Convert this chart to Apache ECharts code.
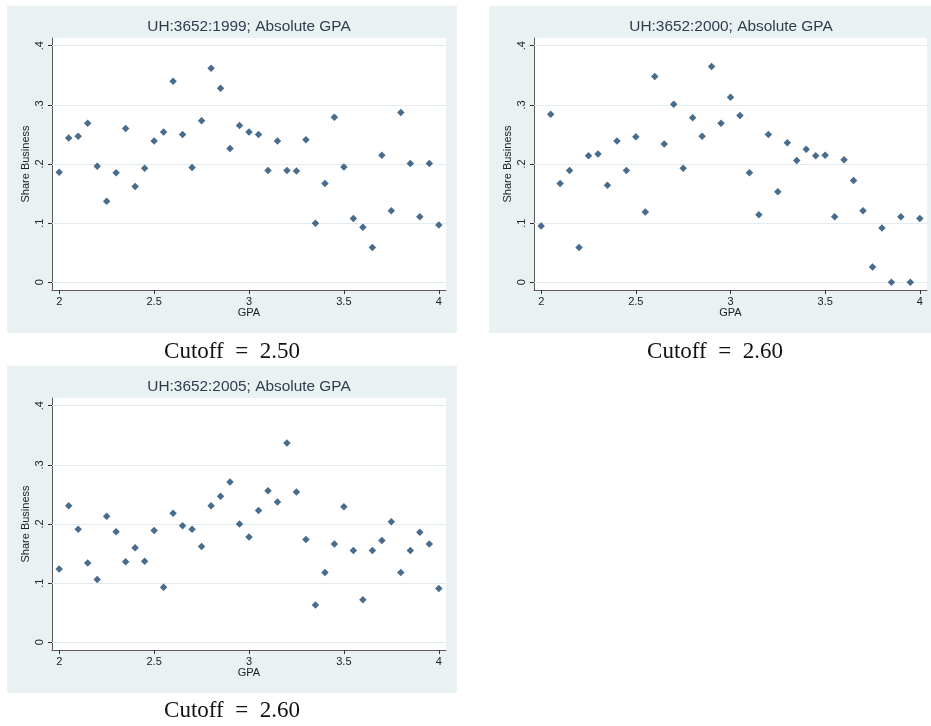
<!DOCTYPE html>
<html>
<head>
<meta charset="utf-8">
<title>Share Business by GPA</title>
<script src="https://cdn.jsdelivr.net/npm/echarts@6/dist/echarts.min.js"></script>
<style>
  html, body { margin: 0; padding: 0; background: #ffffff; }
  #chart { width: 931px; height: 726px; }
</style>
</head>
<body>
<div id="chart"></div>
<script>
// GPA bins, 2.00 to 4.00 in steps of 0.05
const gpa = [
  2.00, 2.05, 2.10, 2.15, 2.20, 2.25, 2.30, 2.35, 2.40, 2.45,
  2.50, 2.55, 2.60, 2.65, 2.70, 2.75, 2.80, 2.85, 2.90, 2.95,
  3.00, 3.05, 3.10, 3.15, 3.20, 3.25, 3.30, 3.35, 3.40, 3.45,
  3.50, 3.55, 3.60, 3.65, 3.70, 3.75, 3.80, 3.85, 3.90, 3.95, 4.00
];

// Share of students in business, per GPA bin
const share1999 = [
  0.186, 0.244, 0.247, 0.269, 0.196, 0.137, 0.185, 0.260, 0.162, 0.193,
  0.239, 0.254, 0.340, 0.250, 0.194, 0.273, 0.362, 0.328, 0.226, 0.265,
  0.254, 0.250, 0.189, 0.239, 0.189, 0.188, 0.241, 0.100, 0.167, 0.279,
  0.195, 0.108, 0.093, 0.059, 0.215, 0.121, 0.287, 0.201, 0.111, 0.201, 0.097
];
const share2000 = [
  0.095, 0.284, 0.167, 0.189, 0.059, 0.214, 0.217, 0.164, 0.239, 0.189,
  0.246, 0.119, 0.348, 0.234, 0.301, 0.193, 0.278, 0.247, 0.365, 0.269,
  0.313, 0.282, 0.185, 0.114, 0.250, 0.153, 0.236, 0.206, 0.225, 0.214,
  0.215, 0.111, 0.207, 0.172, 0.121, 0.026, 0.092, 0.000, 0.111, 0.000, 0.108
];
const share2005 = [
  0.124, 0.231, 0.191, 0.134, 0.106, 0.213, 0.187, 0.136, 0.160, 0.137,
  0.189, 0.093, 0.218, 0.197, 0.191, 0.162, 0.231, 0.247, 0.271, 0.200,
  0.178, 0.223, 0.256, 0.237, 0.337, 0.254, 0.174, 0.063, 0.118, 0.166,
  0.229, 0.155, 0.072, 0.155, 0.172, 0.204, 0.118, 0.155, 0.186, 0.166, 0.091
];

const panelTitles = [
  'UH:3652:1999; Absolute GPA',
  'UH:3652:2000; Absolute GPA',
  'UH:3652:2005; Absolute GPA'
];
// Captions use en spaces around "=" for math-style spacing
const captions = ['Cutoff\u2002=\u20022.50', 'Cutoff\u2002=\u20022.60', 'Cutoff\u2002=\u20022.60'];

// Tick positions and their labels
const xTicks = [2, 2.5, 3, 3.5, 4];
const xTickLabels = ['2', '2.5', '3', '3.5', '4'];
const yTicks = [0, 0.1, 0.2, 0.3, 0.4];
const yTickLabels = ['0', '.1', '.2', '.3', '.4'];

const seriesData = [share1999, share2000, share2005];

// Panel geometry (pixels)
const panels = [
  { bg: [7, 6, 450, 327],   grid: [52, 38, 394, 252],  title: [249, 27],  caption: [232, 352] },
  { bg: [489, 6, 442, 327], grid: [534, 38, 393, 252], title: [731, 27],  caption: [715, 352] },
  { bg: [7, 366, 450, 327], grid: [52, 398, 394, 252], title: [249, 387], caption: [232, 711] }
];

const FONT = 'Liberation Sans, Arial, sans-serif';
const NAVY = '#1a476f';
const PANEL_BG = '#e9f1f3';
const GRIDLINE = '#e2ebee';

function labelFor(ticks, labels) {
  return function (v) {
    for (let i = 0; i < ticks.length; i++) {
      if (Math.abs(ticks[i] - v) < 1e-9) return labels[i];
    }
    return '';
  };
}

const grids = [], xAxes = [], yAxes = [], series = [], graphics = [];

panels.forEach(function (p, i) {
  graphics.push({
    type: 'rect', z: -100, silent: true,
    shape: { x: p.bg[0], y: p.bg[1], width: p.bg[2], height: p.bg[3] },
    style: { fill: PANEL_BG }
  });
  graphics.push({
    type: 'text', silent: true,
    x: p.title[0], y: p.title[1],
    style: {
      text: panelTitles[i], fill: '#303c4c', font: '15.4px ' + FONT,
      textAlign: 'center', textVerticalAlign: 'middle'
    }
  });
  graphics.push({
    type: 'text', silent: true,
    x: p.caption[0], y: p.caption[1],
    style: {
      text: captions[i], fill: '#111111', font: '23px "Liberation Serif", "Times New Roman", serif',
      textAlign: 'center', textVerticalAlign: 'middle'
    }
  });

  grids.push({
    left: p.grid[0], top: p.grid[1], width: p.grid[2], height: p.grid[3],
    show: true, backgroundColor: '#ffffff', borderWidth: 0
  });

  xAxes.push({
    type: 'value', gridIndex: i, min: 1.962, max: 4.038,
    name: 'GPA', nameLocation: 'middle', nameGap: 17,
    nameTextStyle: { fontFamily: FONT, fontSize: 11, color: '#222222' },
    axisLine: { show: true, onZero: false, lineStyle: { color: '#5a5a5a', width: 1 } },
    axisTick: { show: true, length: 4, customValues: xTicks, lineStyle: { color: '#333333' } },
    axisLabel: {
      customValues: xTicks, formatter: labelFor(xTicks, xTickLabels),
      fontFamily: FONT, fontSize: 11, color: '#222222', margin: 6
    },
    splitLine: { show: false }
  });

  yAxes.push({
    type: 'value', gridIndex: i, min: -0.013, max: 0.413,
    name: 'Share Business', nameLocation: 'middle', nameGap: 21, nameRotate: 90,
    nameTextStyle: { fontFamily: FONT, fontSize: 11, color: '#222222' },
    axisLine: { show: true, onZero: false, lineStyle: { color: '#5a5a5a', width: 1 } },
    axisTick: { show: true, length: 4, customValues: yTicks, lineStyle: { color: '#333333' } },
    axisLabel: {
      customValues: yTicks, formatter: labelFor(yTicks, yTickLabels), rotate: 90,
      fontFamily: FONT, fontSize: 11, color: '#222222', margin: 7
    },
    splitLine: { show: false }
  });

  series.push({
    type: 'scatter', xAxisIndex: i, yAxisIndex: i, z: 3,
    symbol: 'diamond', symbolSize: 7.5,
    itemStyle: { color: NAVY },
    data: gpa.map(function (g, k) { return [g, seriesData[i][k]]; }),
    markLine: {
      silent: true, z: 1, symbol: 'none', animation: false,
      label: { show: false },
      lineStyle: { color: GRIDLINE, type: 'solid', width: 1 },
      data: yTicks.map(function (v) { return { yAxis: v }; })
    }
  });
});

const chart = echarts.init(document.getElementById('chart'), null, { renderer: 'canvas' });
chart.setOption({
  animation: false,
  backgroundColor: '#ffffff',
  grid: grids,
  xAxis: xAxes,
  yAxis: yAxes,
  series: series,
  graphic: { elements: graphics }
});
</script>
</body>
</html>
